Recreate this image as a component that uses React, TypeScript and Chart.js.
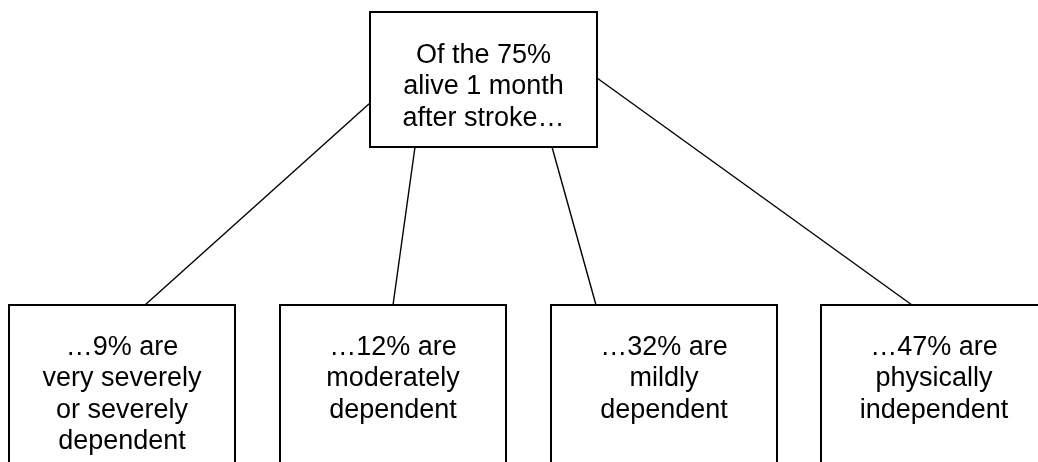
import React, { useEffect, useRef } from "react";
import { Chart, registerables } from "chart.js";

Chart.register(...registerables);

// ---- data ----
const ROOT_LINES = ["Of the 75%", "alive 1 month", "after stroke…"];
const OUTCOME_SHARES = [9, 12, 32, 47];
const OUTCOME_DESCRIPTIONS = [
  ["very severely", "or severely", "dependent"],
  ["moderately", "dependent"],
  ["mildly", "dependent"],
  ["physically", "independent"],
];

// ---- layout (diagram units on the chart's x / y scales) ----
const ROOT_BOX = { left: 370, right: 597, top: 12, bottom: 147 };
const CHILD_LEFTS = [9, 280, 551, 821];
const CHILD_WIDTH = 226;
const CHILD_TOP = 305;
const CHILD_BOTTOM = 480;
const ROOT_FIRST_BASELINE = 63;
const CHILD_FIRST_BASELINE = 355;
const LINE_STEP = 31.3;
const CONNECTOR_FROM = [
  [370, 103],
  [415, 147],
  [552, 147],
  [597, 78],
];
const CONNECTOR_TO = [
  [145, 305],
  [393, 305],
  [596, 305],
  [912, 305],
];

const FONT = '27px "Liberation Sans", Arial, sans-serif';

const boxesPlugin = {
  id: "treeBoxes",
  afterDatasetsDraw(chart: any) {
    const { ctx, scales } = chart;
    const sx = (v: number) => scales.x.getPixelForValue(v);
    const sy = (v: number) => scales.y.getPixelForValue(v);
    ctx.save();
    ctx.strokeStyle = "#000";
    ctx.fillStyle = "#fff";
    ctx.lineWidth = 2;

    const drawBox = (l: number, r: number, t: number, b: number) => {
      const x0 = sx(l), x1 = sx(r), y0 = sy(t), y1 = sy(b);
      ctx.fillStyle = "#fff";
      ctx.fillRect(x0, y0, x1 - x0, y1 - y0);
      ctx.strokeRect(x0, y0, x1 - x0, y1 - y0);
    };
    const drawLines = (lines: string[], cx: number, firstBaseline: number) => {
      ctx.fillStyle = "#000";
      ctx.font = FONT;
      ctx.textAlign = "center";
      ctx.textBaseline = "alphabetic";
      lines.forEach((ln, i) => {
        ctx.fillText(ln, sx(cx), sy(firstBaseline + i * LINE_STEP));
      });
    };

    drawBox(ROOT_BOX.left, ROOT_BOX.right, ROOT_BOX.top, ROOT_BOX.bottom);
    drawLines(ROOT_LINES, (ROOT_BOX.left + ROOT_BOX.right) / 2, ROOT_FIRST_BASELINE);

    OUTCOME_SHARES.forEach((share, i) => {
      const l = CHILD_LEFTS[i];
      drawBox(l, l + CHILD_WIDTH, CHILD_TOP, CHILD_BOTTOM);
      drawLines(
        [`…${share}% are`, ...OUTCOME_DESCRIPTIONS[i]],
        l + CHILD_WIDTH / 2,
        CHILD_FIRST_BASELINE
      );
    });
    ctx.restore();
  },
};

export default function App() {
  const ref = useRef<HTMLCanvasElement | null>(null);
  useEffect(() => {
    if (!ref.current) return;
    const datasets = CONNECTOR_FROM.map((from, i) => ({
      type: "line" as const,
      data: [
        { x: from[0], y: from[1] },
        { x: CONNECTOR_TO[i][0], y: CONNECTOR_TO[i][1] },
      ],
      borderColor: "#000",
      borderWidth: 1.4,
      pointRadius: 0,
      fill: false,
      tension: 0,
    }));
    const chart = new Chart(ref.current, {
      type: "scatter",
      data: { datasets: datasets as any },
      options: {
        animation: false,
        responsive: false,
        devicePixelRatio: 1,
        layout: { padding: 0 },
        plugins: { legend: { display: false }, tooltip: { enabled: false } },
        scales: {
          x: { type: "linear", min: 0, max: 1038, display: false },
          y: { type: "linear", min: 0, max: 462, reverse: true, display: false },
        },
        showLine: true,
      } as any,
      plugins: [boxesPlugin],
    });
    return () => chart.destroy();
  }, []);
  return (
    <div style={{ position: "absolute", left: 0, top: 0, width: 1038, height: 462, background: "#fff" }}>
      <canvas ref={ref} width={1038} height={462} style={{ display: "block" }} />
    </div>
  );
}
